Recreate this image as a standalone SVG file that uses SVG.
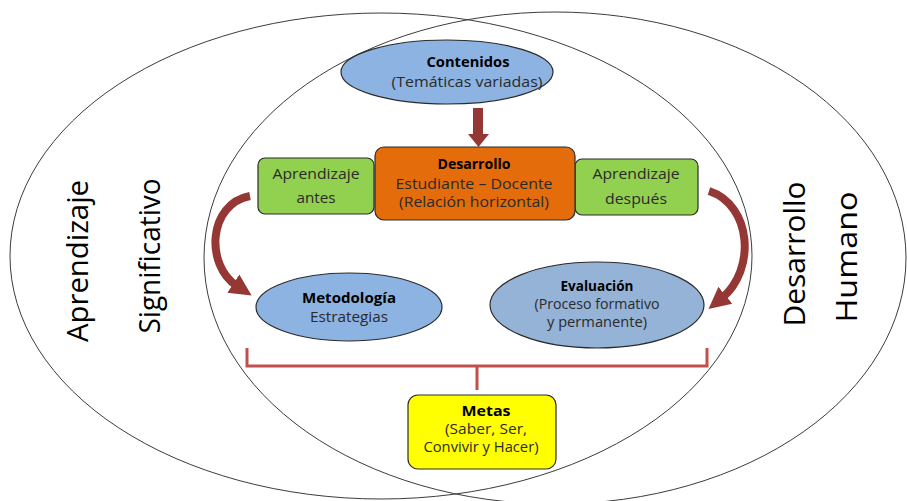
<svg xmlns="http://www.w3.org/2000/svg" width="907" height="501" viewBox="0 0 907 501">
  <style>
    .ring { fill: none; stroke: #3c3c3c; stroke-width: 1; }
    .node { stroke: #2b2b2b; stroke-width: 1.2; }
    .t { font-family: "Open Sans", "Liberation Sans", sans-serif; font-size: 14.5px; fill: #2a2a2a; text-anchor: middle; }
    .b { font-weight: bold; fill: #000; }
    .big { font-family: "Open Sans", "Liberation Sans", sans-serif; font-size: 29px; fill: #000; text-anchor: middle; }
    .arrow { fill: none; stroke: #953735; stroke-width: 8; }
    .brace { fill: none; stroke: #c0504d; stroke-width: 3; }
  </style>
  <defs>
    <marker id="head" markerUnits="userSpaceOnUse" markerWidth="24" markerHeight="24" refX="4" refY="10" orient="auto" viewBox="0 0 22 20">
      <path d="M0,0 L20,10 L0,20 Z" fill="#953735"/>
    </marker>
  </defs>
  <rect width="907" height="501" fill="#ffffff"/>

  <g id="rings">
    <ellipse class="ring" cx="381" cy="256" rx="371" ry="243"/>
    <ellipse class="ring" cx="555" cy="258" rx="351" ry="246"/>
  </g>

  <g id="labels-outer">
    <text class="big" transform="translate(88,261) rotate(-90)" textLength="162" lengthAdjust="spacingAndGlyphs">Aprendizaje</text>
    <text class="big" transform="translate(160,256) rotate(-90)" font-size="28" textLength="155" lengthAdjust="spacingAndGlyphs">Significativo</text>
    <text class="big" transform="translate(805,254) rotate(-90)" textLength="145" lengthAdjust="spacingAndGlyphs">Desarrollo</text>
    <text class="big" transform="translate(857,257) rotate(-90)" textLength="131" lengthAdjust="spacingAndGlyphs">Humano</text>
  </g>

  <g id="connectors">
    <path d="M478,108 V134" stroke="#953735" stroke-width="10" fill="none"/>
    <path d="M468,134 H489 L478.5,147 Z" fill="#953735"/>
    <path class="arrow" d="M250,196 C208,204 205,265 237,286" marker-end="url(#head)"/>
    <path class="arrow" d="M709,191 C752,205 756,270 722,298" marker-end="url(#head)"/>
    <path class="brace" d="M247,348 V366 H707 V348 M477,366 V390"/>
  </g>

  <g id="contenidos">
    <ellipse class="node" cx="447" cy="72" rx="106" ry="32" fill="#8db3e2"/>
    <text class="t b" x="468" y="67" textLength="83" lengthAdjust="spacingAndGlyphs">Contenidos</text>
    <text class="t" x="467" y="87" textLength="151" lengthAdjust="spacingAndGlyphs">(Temáticas variadas)</text>
  </g>

  <g id="aprendizaje-antes">
    <rect class="node" x="258" y="158" width="116" height="56" rx="7" fill="#92d050"/>
    <text class="t" x="316" y="179" textLength="87" lengthAdjust="spacingAndGlyphs">Aprendizaje</text>
    <text class="t" x="316" y="203" textLength="39" lengthAdjust="spacingAndGlyphs">antes</text>
  </g>

  <g id="aprendizaje-despues">
    <rect class="node" x="575" y="159" width="123" height="56" rx="7" fill="#92d050"/>
    <text class="t" x="636" y="179" textLength="87" lengthAdjust="spacingAndGlyphs">Aprendizaje</text>
    <text class="t" x="636" y="204" textLength="62" lengthAdjust="spacingAndGlyphs">después</text>
  </g>

  <g id="desarrollo">
    <rect class="node" x="375" y="147" width="200" height="73" rx="9" fill="#e46c0a"/>
    <text class="t b" x="474" y="169" font-size="13.5" textLength="73" lengthAdjust="spacingAndGlyphs">Desarrollo</text>
    <text class="t" x="474" y="188.5" font-size="13.5" textLength="157" lengthAdjust="spacingAndGlyphs">Estudiante – Docente</text>
    <text class="t" x="474" y="207" font-size="13.5" textLength="150" lengthAdjust="spacingAndGlyphs">(Relación horizontal)</text>
  </g>

  <g id="metodologia">
    <ellipse class="node" cx="349" cy="307" rx="93" ry="34" fill="#8db3e2"/>
    <text class="t b" x="349" y="303" textLength="94" lengthAdjust="spacingAndGlyphs">Metodología</text>
    <text class="t" x="349" y="322" font-size="14" textLength="78" lengthAdjust="spacingAndGlyphs">Estrategias</text>
  </g>

  <g id="evaluacion">
    <ellipse class="node" cx="597" cy="305" rx="107" ry="43" fill="#95b3d7"/>
    <text class="t b" x="597" y="290.5" font-size="12" textLength="73" lengthAdjust="spacingAndGlyphs">Evaluación</text>
    <text class="t" x="597" y="308.5" font-size="12" textLength="125" lengthAdjust="spacingAndGlyphs">(Proceso formativo</text>
    <text class="t" x="597" y="326.5" font-size="12" textLength="100" lengthAdjust="spacingAndGlyphs">y permanente)</text>
  </g>

  <g id="metas">
    <rect class="node" x="408" y="395" width="148" height="74" rx="10" fill="#ffff00"/>
    <text class="t b" x="486" y="416" font-size="12.5" textLength="49" lengthAdjust="spacingAndGlyphs">Metas</text>
    <text class="t" x="486" y="434" font-size="12.5" textLength="82" lengthAdjust="spacingAndGlyphs">(Saber, Ser,</text>
    <text class="t" x="481" y="452" font-size="12.5" textLength="115" lengthAdjust="spacingAndGlyphs">Convivir y Hacer)</text>
  </g>
</svg>
